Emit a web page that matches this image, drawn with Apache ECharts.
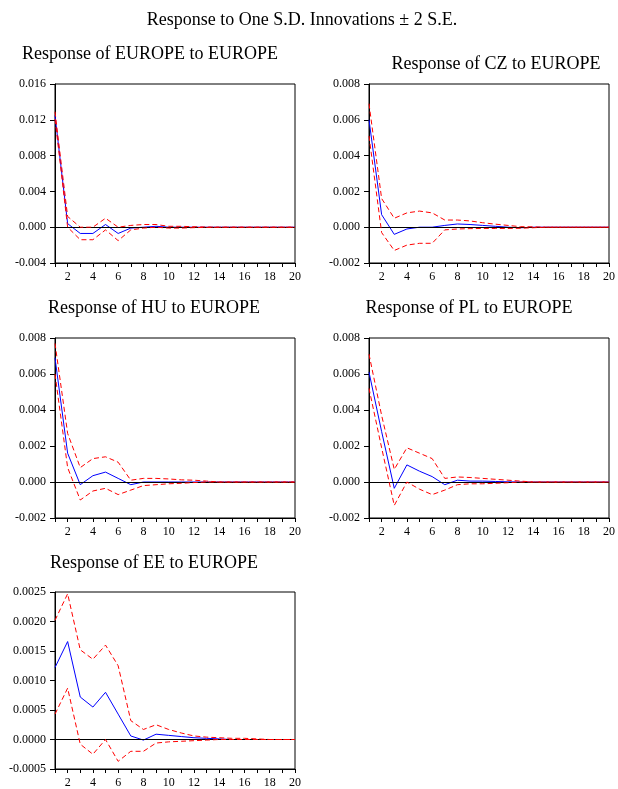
<!DOCTYPE html>
<html>
<head>
<meta charset="utf-8">
<script src="https://cdn.jsdelivr.net/npm/echarts@6/dist/echarts.min.js"></script>
<style>html,body{margin:0;padding:0;background:#fff}#c{width:618px;height:789px}</style>
</head>
<body>
<div id="c"></div>
<script>
var periods = [1,2,3,4,5,6,7,8,9,10,11,12,13,14,15,16,17,18,19,20];
var xTickLabels = [2,4,6,8,10,12,14,16,18,20];

var mainTitle = 'Response to One S.D. Innovations \u00b1 2 S.E.';
var panelTitles = ['Response of EUROPE to EUROPE','Response of CZ to EUROPE','Response of HU to EUROPE','Response of PL to EUROPE','Response of EE to EUROPE'];

// EUROPE to EUROPE
var euResp  = [0.0125,0.0004,-0.0007,-0.0007,0.0003,-0.0007,-0.0001,0.0000,0.0001,0.0000,0.0000,0,0,0,0,0,0,0,0,0];
var euUpper = [0.0129,0.0012,0.0000,0.0000,0.0010,0.0000,0.0002,0.0003,0.0003,0.0001,0.0001,0.00005,0.00002,0,0,0,0,0,0,0];
var euLower = [0.0121,0.0000,-0.0014,-0.0014,-0.0003,-0.0015,-0.0003,-0.0001,0.0000,-0.0001,-0.0001,-0.00005,-0.00002,0,0,0,0,0,0,0];
// CZ to EUROPE
var czResp  = [0.0060,0.0007,-0.0004,-0.0001,0.0000,0.0000,0.0001,0.00018,0.00015,0.0001,0.00005,0.0000,-0.00003,0,0,0,0,0,0,0];
var czUpper = [0.0069,0.0016,0.0005,0.0008,0.0009,0.0008,0.0004,0.0004,0.00035,0.00025,0.00017,0.0001,0.00003,0.00002,0,0,0,0,0,0];
var czLower = [0.0051,-0.0003,-0.0013,-0.0010,-0.0009,-0.0009,-0.00015,-0.0001,-0.00008,-0.00007,-0.00007,-0.00007,-0.00006,-0.00003,0,0,0,0,0,0];
// HU to EUROPE
var huResp  = [0.0069,0.0016,-0.00015,0.00035,0.00055,0.0002,-0.00015,0.0000,0,0,0,0,0,0,0,0,0,0,0,0];
var huUpper = [0.0077,0.0027,0.0008,0.0013,0.0014,0.0011,0.0001,0.0002,0.0002,0.00017,0.00012,0.0001,0.00005,0,0,0,0,0,0,0];
var huLower = [0.0060,0.0008,-0.0010,-0.0005,-0.00035,-0.0007,-0.00045,-0.0002,-0.00015,-0.0001,-0.00007,-0.00003,0,0,0,0,0,0,0,0];
// PL to EUROPE
var plResp  = [0.0061,0.0028,-0.00035,0.00095,0.0006,0.0003,-0.00015,0.0001,0.00005,0.00005,0.00003,0.00001,0,0,0,0,0,0,0,0];
var plUpper = [0.0071,0.0037,0.0007,0.0019,0.0016,0.0013,0.0002,0.00028,0.00025,0.0002,0.00015,0.0001,0.00005,0,0,0,0,0,0,0];
var plLower = [0.0052,0.0019,-0.0013,0.0000,-0.0004,-0.0007,-0.00045,-0.00015,-0.0001,-0.0001,-0.00007,-0.00004,0,0,0,0,0,0,0,0];
// EE to EUROPE
var eeResp  = [0.00122,0.00166,0.00072,0.00055,0.00080,0.00043,0.00006,-0.00001,0.00009,0.00007,0.00005,0.00003,0.00002,0.00001,0,0,0,0,0,0];
var eeUpper = [0.00202,0.00247,0.00152,0.00136,0.00160,0.00125,0.00032,0.00017,0.00025,0.00017,0.00011,0.00006,0.00004,0.00003,0.00002,0.00002,0.00001,0,0,0];
var eeLower = [0.00043,0.00087,-0.00008,-0.00025,0.0000,-0.00037,-0.0002,-0.0002,-0.00006,-0.00004,-0.00003,-0.00002,-0.00001,0,0,0,0,0,0,0];

var yMins = [-0.004,-0.002,-0.002,-0.002,-0.0005];
var yMaxs = [0.016,0.008,0.008,0.008,0.0025];
var yIntervals = [0.004,0.002,0.002,0.002,0.0005];
var yDecimals = [3,3,3,3,4];

var panels = [
  {resp: euResp, up: euUpper, lo: euLower},
  {resp: czResp, up: czUpper, lo: czLower},
  {resp: huResp, up: huUpper, lo: huLower},
  {resp: plResp, up: plUpper, lo: plLower},
  {resp: eeResp, up: eeUpper, lo: eeLower}
];

var gridPos = [
  {left:55, top:84, width:240, height:179},
  {left:369, top:84, width:241, height:179},
  {left:55, top:338, width:240, height:180},
  {left:369, top:338, width:241, height:180},
  {left:55, top:592, width:240, height:181}
];
var titlePos = [
  {x:150, y:54},{x:496, y:64},{x:154, y:308},{x:469, y:308},{x:154, y:563}
];

var FONT = '"Liberation Serif","Times New Roman",serif';

function pairs(arr){ return periods.map(function(p,i){ return [p, arr[i]]; }); }

var titles = [{text: mainTitle, left: 302, top: 11, textAlign:'center', padding:0,
  textStyle:{fontFamily:FONT, fontSize:18, fontWeight:'normal', color:'#000'}}];
panelTitles.forEach(function(t,i){
  titles.push({text:t, left:titlePos[i].x, top:titlePos[i].y-9, textAlign:'center', padding:0,
    textStyle:{fontFamily:FONT, fontSize:18, fontWeight:'normal', color:'#000'}});
});

var grids=[], xAxes=[], yAxes=[], series=[];
panels.forEach(function(p,i){
  grids.push(Object.assign({show:true, borderColor:'#000', borderWidth:1, backgroundColor:'#fff', containLabel:false}, gridPos[i]));
  xAxes.push({type:'value', gridIndex:i, min:1, max:20, interval:1,
    axisLine:{show:true, onZero:false, lineStyle:{color:'#000', width:1}},
    axisTick:{show:true, inside:false, length:4, lineStyle:{color:'#000'}},
    splitLine:{show:false},
    axisLabel:{show:true, margin:8, fontFamily:FONT, fontSize:12, color:'#000',
      formatter:function(v){ return xTickLabels.indexOf(v)>=0 ? String(v) : ''; }}
  });
  (function(dec){
    yAxes.push({type:'value', gridIndex:i, min:yMins[i], max:yMaxs[i], interval:yIntervals[i],
      axisLine:{show:true, lineStyle:{color:'#000', width:1}},
      axisTick:{show:true, inside:false, length:5, lineStyle:{color:'#000'}},
      splitLine:{show:false},
      axisLabel:{show:true, margin:9, fontFamily:FONT, fontSize:12, color:'#000',
        formatter:function(v){ return v.toFixed(dec); }}
    });
  })(yDecimals[i]);
  series.push({type:'line', xAxisIndex:i, yAxisIndex:i, data:pairs(p.resp), showSymbol:false, symbol:'none',
    lineStyle:{color:'#0000ff', width:1}, z:4, animation:false,
    markLine:{silent:true, symbol:'none', label:{show:false}, lineStyle:{color:'#000', width:1, type:'solid'},
      data:[{yAxis:0}], animation:false}});
  series.push({type:'line', xAxisIndex:i, yAxisIndex:i, data:pairs(p.up), showSymbol:false, symbol:'none',
    lineStyle:{color:'#ff0000', width:1, type:[5,3]}, z:5, animation:false});
  series.push({type:'line', xAxisIndex:i, yAxisIndex:i, data:pairs(p.lo), showSymbol:false, symbol:'none',
    lineStyle:{color:'#ff0000', width:1, type:[5,3]}, z:5, animation:false});
});

var chart = echarts.init(document.getElementById('c'), null, {renderer:'canvas'});
chart.setOption({animation:false, backgroundColor:'#fff', title:titles, grid:grids, xAxis:xAxes, yAxis:yAxes, series:series});
</script>
</body>
</html>
